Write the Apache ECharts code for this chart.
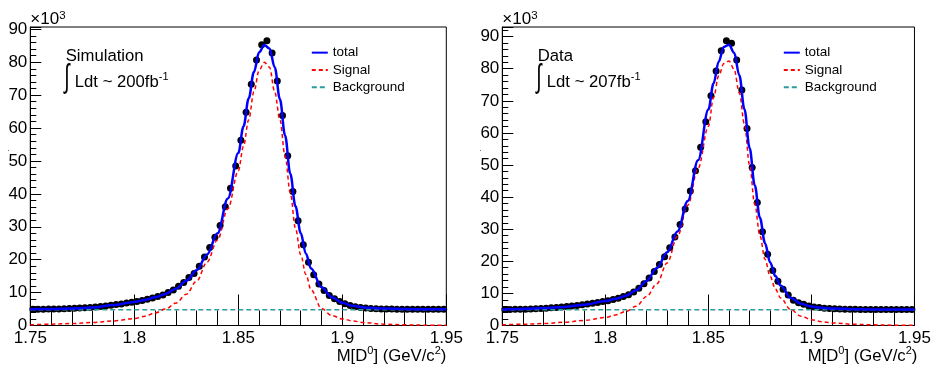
<!DOCTYPE html>
<html><head><meta charset="utf-8">
<script src="https://cdn.jsdelivr.net/npm/echarts@6/dist/echarts.min.js"></script>
<style>html,body{margin:0;padding:0;background:#fff}#c{width:934px;height:367px}</style>
</head><body><div id="c"></div>
<script>
// ---- histogram binning (80 bins from 1.75 to 1.95 GeV/c^2) ----
const binLow = 1.75;
const binWidth = 0.0025;

// ---- data points (x10^3 entries per bin) ----
const simCounts = [
  4.90,4.95,4.95,5.00,5.00, 5.05,5.10,5.20,5.25,5.30,
  5.40,5.50,5.60,5.75,5.90, 6.15,6.35,6.55,6.80,7.05,
  7.30,7.60,7.95,8.35,8.80, 9.30,10.0,10.8,11.9,13.1,
  14.6,15.8,18.0,20.8,23.7, 26.8,30.4,36.1,41.7,48.5,
  56.3,64.8,73.3,80.7,85.3, 86.5,82.8,74.3,63.8,51.6,
  40.7,31.8,24.5,19.2,15.4, 12.6,10.6,9.1,8.1,7.3,
  6.6,6.1,5.7,5.45,5.3, 5.2,5.1,5.05,5.0,5.0,
  4.95,4.95,4.95,4.9,4.9, 4.95,4.9,4.9,4.9,4.95
];
const dataCounts = [
  5.00,5.00,5.05,5.05,5.10, 5.15,5.20,5.30,5.40,5.50,
  5.60,5.75,5.90,6.05,6.25, 6.45,6.70,6.95,7.20,7.45,
  7.75,8.10,8.50,9.00,9.60, 10.4,11.6,13.0,14.8,16.8,
  19.0,21.4,24.2,27.6,31.5, 36.3,41.9,48.2,55.5,63.5,
  71.6,79.3,85.6,88.7,87.9, 82.7,73.4,61.4,49.2,38.3,
  29.2,22.2,17.1,13.8,11.3, 9.5,7.9,7.1,6.6,6.1,
  5.8,5.6,5.4,5.3,5.2, 5.15,5.1,5.05,5.05,5.0,
  5.0,5.0,5.0,5.0,4.95, 5.0,5.0,4.95,5.0,5.0
];

// ---- fitted curves, sampled at curveX ----
const curveX = [1.75,1.76,1.77,1.78,1.79,1.80,1.805,1.81,1.815,1.82,1.825,1.83,1.835,1.84,1.845,1.85,
  1.8525,1.855,1.8575,1.86,1.8625,1.865,1.8675,1.87,1.8725,1.875,1.8775,1.88,1.8825,1.885,
  1.89,1.895,1.90,1.905,1.91,1.92,1.93,1.94,1.95];
const simTotal = [4.95,5.0,5.15,5.45,6.2,7.15,7.75,8.55,9.6,11.2,13.6,16.8,21.6,28.0,38.6,52.4,
  60.5,69.0,77.0,83.0,85.2,84.2,78.5,68.8,57.7,46.1,36.2,28.1,21.8,17.3,
  11.6,8.6,6.9,6.0,5.5,5.15,5.0,4.95,4.9];
const simSignal = [0.2,0.4,0.6,0.9,1.4,2.1,2.8,3.8,5.0,6.8,9.5,13.5,19.3,26.0,35.5,47.0,
  54.5,62.5,71.0,77.5,80.0,78.5,71.0,62.5,51.5,40.3,29.5,21.5,15.5,10.8,
  5.2,3.0,2.0,1.4,0.9,0.4,0.2,0.1,0.05];
const dataTotal = [5.0,5.15,5.45,5.8,6.5,7.6,8.3,9.3,11.0,13.9,17.9,22.8,29.3,38.8,51.5,67.3,
  75.4,82.2,86.8,87.5,85.0,78.0,67.4,55.3,43.7,33.6,25.6,19.6,15.4,12.5,
  8.6,6.8,5.9,5.5,5.3,5.1,5.0,5.0,5.0];
const dataSignal = [0.2,0.4,0.6,1.0,1.6,2.5,3.3,4.4,6.0,9.0,13.0,19.5,27.8,37.5,49.0,62.0,
  71.0,77.8,81.6,82.4,79.8,72.5,62.8,50.0,37.8,28.0,20.6,15.3,11.4,8.6,
  4.9,2.9,1.8,1.2,0.8,0.4,0.2,0.1,0.05];
const bkgX = [1.75, 1.95];
const simBkg = [4.75, 4.75];
const dataBkg = [4.9, 4.9];

// ---- axes / labels ----
const xTicks = ['1.75','1.8','1.85','1.9','1.95'];
const yTicks = ['0','10','20','30','40','50','60','70','80','90'];
const yMax = [90.7, 93.0];
const legendNames = ['total','Signal','Background'];
const panelTitles = ['Simulation','Data'];
const lumiTexts = ['Ldt ~ 200fb','Ldt ~ 207fb'];

const FONT = "'Liberation Sans', Arial, Helvetica, sans-serif";
const panels = [
  {left: 30.3, width: 416, counts: simCounts, total: simTotal, signal: simSignal, bkg: simBkg},
  {left: 502.3, width: 415, counts: dataCounts, total: dataTotal, signal: dataSignal, bkg: dataBkg}
];
const TOP = 27, HEIGHT = 298.5;

const grid = [], xAxis = [], yAxis = [], series = [], legend = [], graphic = [];
panels.forEach((p, i) => {
  grid.push({left: p.left, top: TOP, width: p.width, height: HEIGHT, show: true,
    borderColor: '#000', borderWidth: 1, backgroundColor: 'transparent'});
  xAxis.push({gridIndex: i, type: 'value', min: 1.75, max: 1.95, interval: 0.05,
    axisLine: {show: true, onZero: false, lineStyle: {color: '#000', width: 1}},
    axisTick: {show: true, inside: true, length: 31, lineStyle: {color: '#000', width: 1}},
    minorTick: {show: true, splitNumber: 5, length: 15, lineStyle: {color: '#000', width: 1}},
    splitLine: {show: false},
    axisLabel: {color: '#000', fontSize: 17, fontFamily: FONT, margin: 4,
      formatter: v => xTicks[Math.round((v - 1.75) / 0.05)] || ''}});
  yAxis.push({gridIndex: i, type: 'value', min: 0, max: yMax[i], interval: 10,
    axisLine: {show: true, lineStyle: {color: '#000', width: 1}},
    axisTick: {show: true, inside: true, length: 11, lineStyle: {color: '#000', width: 1}},
    minorTick: {show: true, splitNumber: 5, length: 6, lineStyle: {color: '#000', width: 1}},
    splitLine: {show: false},
    axisLabel: {color: '#000', fontSize: 17, fontFamily: FONT, margin: 3, showMaxLabel: true,
      formatter: v => { const k = Math.round(v / 10); return Math.abs(v - k * 10) < 1e-6 ? (yTicks[k] || '') : ''; }}});

  series.push({type: 'scatter', name: 'data', xAxisIndex: i, yAxisIndex: i, z: 2,
    symbol: 'circle', symbolSize: 7, itemStyle: {color: '#000', opacity: 1},
    data: p.counts.map((c, k) => [binLow + binWidth * (k + 0.5), c])});
  series.push({type: 'line', name: 'Background', xAxisIndex: i, yAxisIndex: i, z: 3,
    showSymbol: false, symbol: 'none',
    lineStyle: {color: '#2e9c9c', width: 1.5, type: [5, 3]},
    itemStyle: {color: '#2e9c9c'},
    data: bkgX.map((x, k) => [x, p.bkg[k]])});
  series.push({type: 'line', name: 'Signal', xAxisIndex: i, yAxisIndex: i, z: 3,
    showSymbol: false, symbol: 'none', smooth: 0.35, smoothMonotone: 'x',
    lineStyle: {color: '#ff0000', width: 1.5, type: [4, 3]},
    itemStyle: {color: '#ff0000'},
    data: curveX.map((x, k) => [x, p.signal[k]])});
  series.push({type: 'line', name: 'total', xAxisIndex: i, yAxisIndex: i, z: 4,
    showSymbol: false, symbol: 'none', smooth: 0.35, smoothMonotone: 'x',
    lineStyle: {color: '#0000ff', width: 2.5},
    itemStyle: {color: '#0000ff'},
    data: curveX.map((x, k) => [x, p.total[k]])});

  legend.push({orient: 'vertical', left: p.left + 280.5, top: 44, padding: 0,
    itemWidth: 16, itemHeight: 10, itemGap: 0, selectedMode: false, data: legendNames,
    itemStyle: {color: 'transparent', borderColor: 'transparent', borderWidth: 0, opacity: 0},
    textStyle: {fontSize: 13.5, fontFamily: FONT, color: '#000', lineHeight: 17.3}});

  const L = p.left;
  // x10^3 multiplier
  graphic.push({type: 'text', x: L, y: 10, z: 10, style: {
    text: '{a|\u00d710}{s|3}', rich: {
      a: {fontSize: 17, fontFamily: FONT, fill: '#000', lineHeight: 18},
      s: {fontSize: 11.5, fontFamily: FONT, fill: '#000', verticalAlign: 'top'}}}});
  // panel title
  graphic.push({type: 'text', x: L + 35.4, y: 56.7, z: 10, style: {
    text: panelTitles[i], font: '16.7px ' + FONT, fill: '#000', verticalAlign: 'middle'}});
  // integral sign
  graphic.push({type: 'text', x: L + 34, y: 78, z: 10, scaleX: 0.75, scaleY: 1.25, style: {
    text: '\u222b', font: '26px ' + FONT, fill: '#000', verticalAlign: 'middle'}});
  // luminosity
  graphic.push({type: 'text', x: L + 44.5, y: 71, z: 10, style: {
    text: '{a|' + lumiTexts[i] + '}{s|-1}', rich: {
      a: {fontSize: 16.7, fontFamily: FONT, fill: '#000', lineHeight: 20, verticalAlign: 'bottom'},
      s: {fontSize: 11, fontFamily: FONT, fill: '#000', verticalAlign: 'top'}}}});
  // x axis title
  graphic.push({type: 'text', x: L + p.width, y: 345, z: 10, style: {
    text: '{a|M[D}{s|0}{a|] (GeV/c}{s|2}{a|)}', align: 'right', rich: {
      a: {fontSize: 16.7, fontFamily: FONT, fill: '#000', lineHeight: 20, verticalAlign: 'bottom'},
      s: {fontSize: 11, fontFamily: FONT, fill: '#000', verticalAlign: 'top'}}}});
  // tiny y title mark
  graphic.push({type: 'text', x: L - 23, y: 144, z: 10, style: {
    text: '.', font: '9px ' + FONT, fill: '#555'}});
});

const chart = echarts.init(document.getElementById('c'), null, {renderer: 'canvas'});
chart.setOption({animation: false, backgroundColor: '#fff', grid, xAxis, yAxis, series, legend, graphic});
</script></body></html>
